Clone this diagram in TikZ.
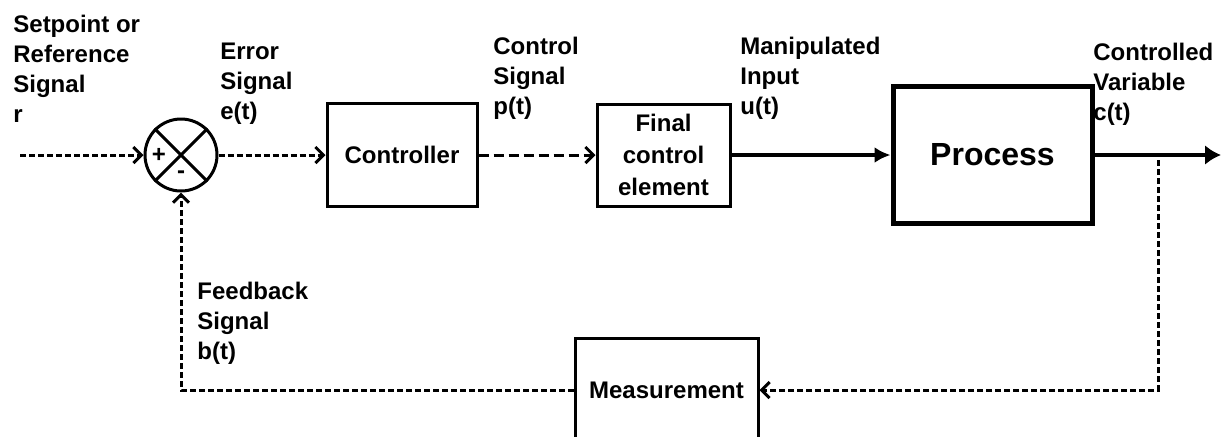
\documentclass[tikz,border=0pt]{standalone}
\usepackage{fontspec}
\setmainfont{Liberation Sans}
\usetikzlibrary{arrows.meta,positioning}
\begin{document}
\begin{tikzpicture}[x=0.5pt,y=-0.5pt,>={Straight Barb[length=4pt,width=8pt]},every node/.style={font=\bfseries\fontsize{12}{15}\selectfont},block/.style={draw,line width=1.5pt,inner sep=0pt,align=center},sig/.style={anchor=north west,align=left,inner sep=0pt},dotsig/.style={->,line width=1.5pt,dash pattern=on 3pt off 1.5pt},dashsig/.style={->,line width=1.5pt,dash pattern=on 5pt off 2.5pt},mainsig/.style={-{Latex[length=8pt,width=8pt]},line width=2pt}]
\useasboundingbox (0,0) rectangle (1222,436);\clip (0,0) rectangle (1222,436);
\coordinate (start) at (20,155);\coordinate (out) at (1221,155);\coordinate (tap) at (1158,160);
\node[circle,draw,line width=1.5pt,minimum size=36pt,inner sep=0pt] (sum) at (181,155) {};
\draw[line width=1.5pt] (sum.45)--(sum.225) (sum.135)--(sum.315);
\node[inner sep=0pt] (plus) at ([xshift=-11pt]sum.center) {+};\node[inner sep=0pt] (minus) at ([yshift=-10pt]sum.center) {-};
\node[sig] (refsig) at (13,15) {Setpoint or\\Reference\\Signal\\r};
\node[sig] (errsig) at (220,43) {Error\\Signal\\e(t)};
\node[sig] (ctlsig) at (493,37) {Control\\Signal\\p(t)};
\node[sig] (mansig) at (740,37) {Manipulated\\Input\\u(t)};
\node[sig] (cvsig) at (1093,43) {Controlled\\Variable\\c(t)};
\node[sig] (fbsig) at (197,282) {Feedback\\Signal\\b(t)};
\node[block,minimum width=75pt,minimum height=51.5pt] (controller) at (402,155) {Controller};
\node[block,minimum width=66.5pt,minimum height=51pt,font=\bfseries\fontsize{12}{16}\selectfont] (fce) at (663.5,155) {Final\\control\\element};
\node[block,line width=2.5pt,minimum width=99.5pt,minimum height=68.5pt,font=\bfseries\fontsize{16}{19}\selectfont] (process) at (992.5,155) {Process};
\node[block,minimum width=91.5pt,minimum height=52pt] (meas) at (666.5,390) {Measurement};
\draw[dotsig] (start)--(sum);
\draw[dotsig] (sum)--(controller);
\draw[dashsig] (controller)--(fce);
\draw[mainsig] (fce)--(process);
\draw[mainsig,-{Latex[length=8pt,width=10pt]}] (process)--(out);
\draw[dotsig] (tap)--(tap |- meas)--(meas);
\draw[dotsig] (meas)--(meas -| sum)--(sum);
\end{tikzpicture}
\end{document}
